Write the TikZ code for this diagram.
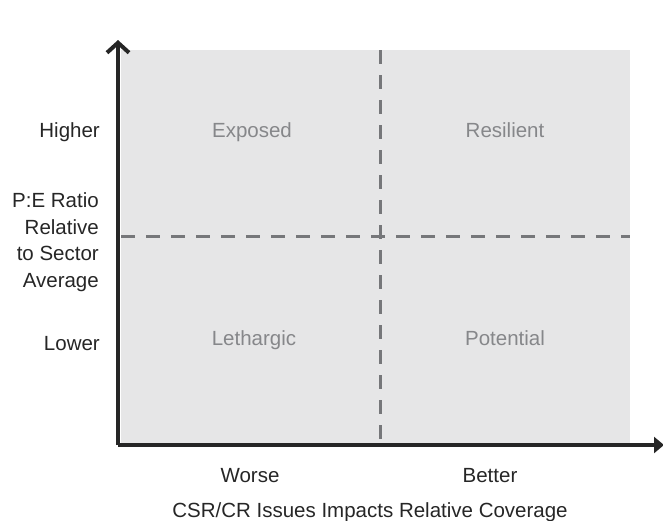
\documentclass[tikz,border=0pt]{standalone}
\usepackage{fontspec}
\setmainfont{Liberation Sans}
\usetikzlibrary{arrows.meta}
\definecolor{quadfill}{HTML}{E6E6E7}
\definecolor{dashgray}{HTML}{76777A}
\definecolor{quadtext}{HTML}{86878A}
\tikzset{
  axis/.style={line width=4pt,draw=black!85},
  divider/.style={line width=3pt,draw=dashgray,dash pattern=on 14pt off 11pt},
  axislabel/.style={font=\fontsize{20.5}{25}\selectfont,text=black!85,inner sep=0pt},
  quadlabel/.style={font=\fontsize{20.5}{25}\selectfont,text=quadtext,inner sep=0pt,anchor=base}
}
\begin{document}
\begin{tikzpicture}[x=1pt,y=-1pt]
        \useasboundingbox (0,0) rectangle (663,520);
        \fill[quadfill] (121,50) rectangle (630,443);
        % dividers
        \coordinate (vtop) at (380,50);
        \coordinate (vbot) at (380,443);
        \coordinate (hleft) at (121,236);
        \coordinate (hright) at (630,236);
        \draw[divider] (vtop) -- (vbot);
        \draw[divider] (hleft) -- (hright);
        % axes
        \coordinate (origin) at (118,445);
        \coordinate (ytip) at (118,40);
        \coordinate (xtip) at (664,445);
        \draw[axis,-{Straight Barb[length=10pt,width=22pt]}] (origin) -- (ytip);
        \draw[axis,-{Triangle[length=10pt,width=16pt]}] (origin) -- (xtip);
        % quadrants
        \foreach \x/\y/\name/\txt in {252/137/exp/Exposed,505/137/res/Resilient,
                                      254/345/let/Lethargic,505/345/pot/Potential}
          \node[quadlabel] (\name) at (\x,\y) {\txt};
        % axis labels
        \node[axislabel,anchor=base east] (higher) at (100,137) {Higher};
        \node[axislabel,anchor=base east] (lower) at (100,350) {Lower};
        \foreach \y/\name/\txt in {207/ylaba/P:E Ratio,234/ylabb/Relative,
                                   260/ylabc/to Sector,287/ylabd/Average}
          \node[axislabel,anchor=base east] (\name) at (99,\y) {\txt};
        \node[axislabel,anchor=base] (worse) at (250,482) {Worse};
        \node[axislabel,anchor=base] (better) at (490,482) {Better};
        \node[axislabel,anchor=base] (xlab) at (370,517) {CSR/CR Issues Impacts Relative Coverage};
    \end{tikzpicture}
\end{document}
